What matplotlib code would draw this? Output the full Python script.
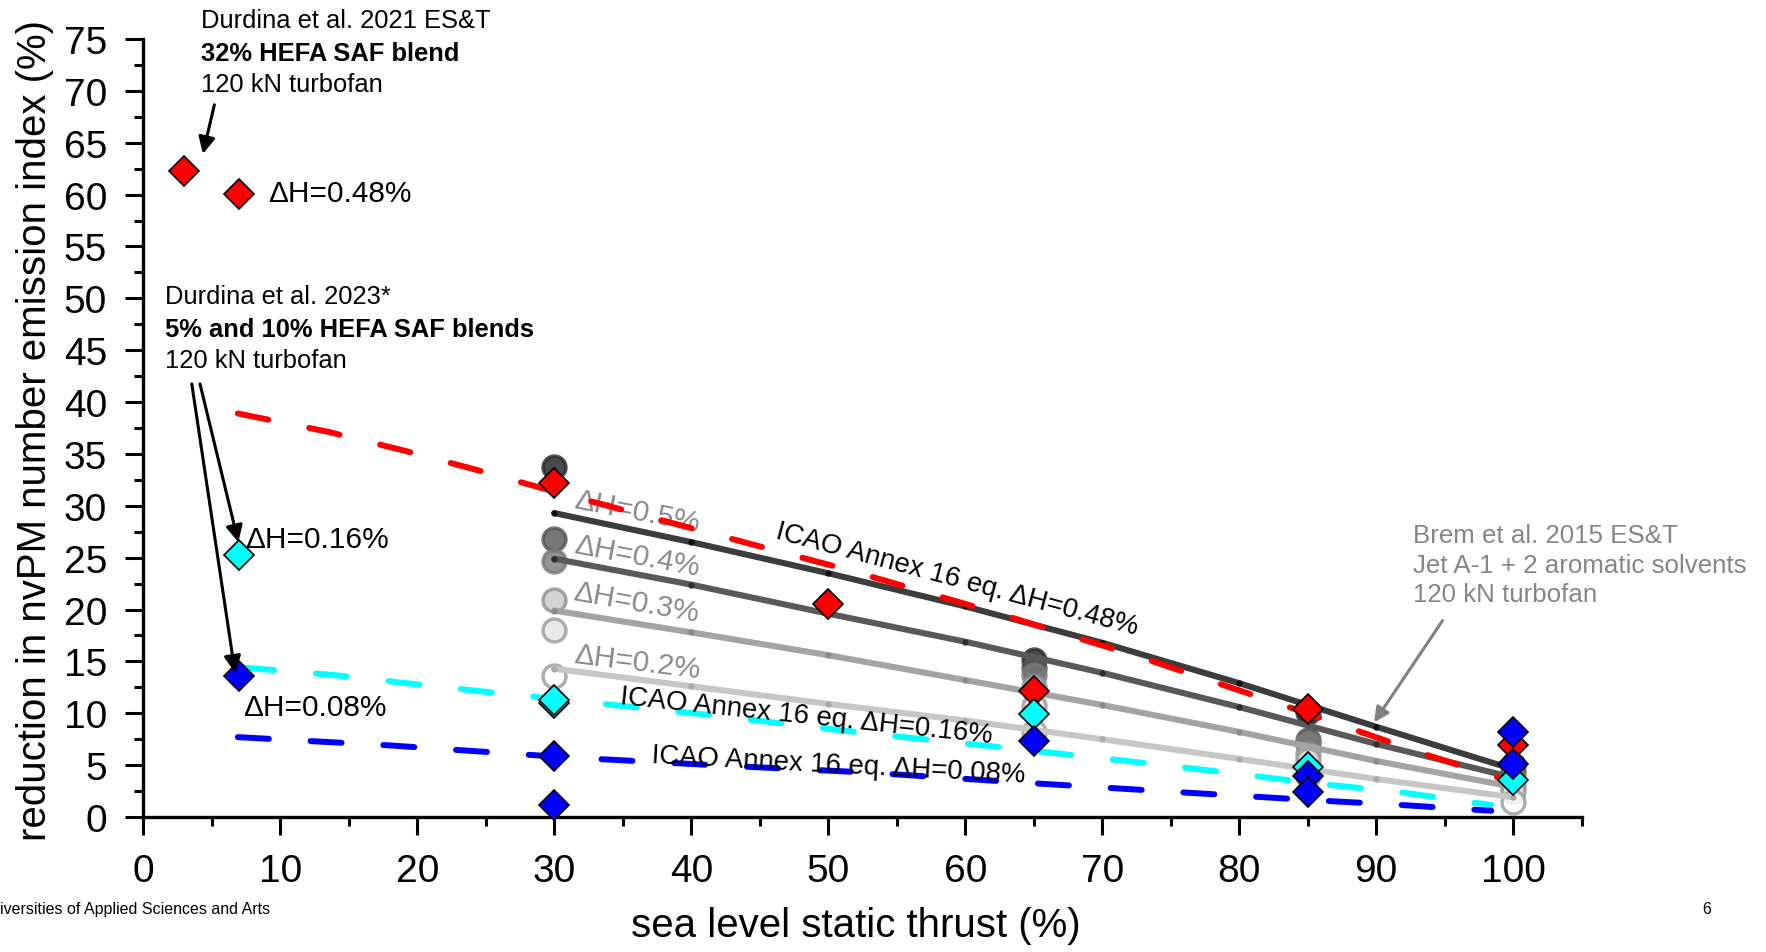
import matplotlib
matplotlib.use('Agg')
import matplotlib.pyplot as plt
from matplotlib.ticker import MultipleLocator

plt.rcParams['font.family'] = ['Liberation Sans', 'DejaVu Sans']

# ---------------- data ----------------
# Durdina et al. 2021 (32% HEFA, dH=0.48%) - red diamonds
red_x = [3, 7, 30, 50, 65, 85, 100]
red_y = [62.3, 60.1, 32.2, 20.5, 12.1, 10.4, 6.9]
# Durdina et al. 2023 dH=0.16% - cyan diamonds
cyan_x = [7, 30, 30, 65, 85, 100]
cyan_y = [25.3, 11.0, 11.3, 9.9, 4.8, 3.6]
# Durdina et al. 2023 dH=0.08% - blue diamonds
blue_x = [7, 30, 30, 65, 85, 85, 100, 100]
blue_y = [13.6, 5.9, 1.2, 7.3, 4.0, 2.4, 8.2, 5.1]

# ICAO Annex 16 eq. curves
icao48_x = [6.9, 13.6, 19.1, 24.5, 30.2, 40.7, 51.5, 62.2, 72.8, 83.4, 93.9, 98.9]
icao48_y = [38.9, 37.1, 35.3, 33.4, 31.3, 27.6, 23.8, 19.7, 15.4, 10.7, 5.9, 3.8]
icao16_x = [7.3, 13.8, 19.2, 24.8, 31.4, 41.6, 52.6, 63.5, 74.9, 85.8, 91.5, 98.4]
icao16_y = [14.4, 13.7, 12.9, 12.1, 11.2, 9.8, 8.1, 6.6, 4.95, 3.2, 2.44, 1.15]
icao08_x = [6.9, 18, 30.9, 41.6, 52.7, 63.8, 75.0, 86.1, 91.8, 98.4]
icao08_y = [7.7, 6.9, 5.75, 5.0, 4.3, 3.35, 2.44, 1.57, 1.16, 0.6]

# Brem et al. 2015 fitted lines (dH = 0.5, 0.4, 0.3, 0.2 %)
fit_x = [30, 40, 50, 60, 70, 80, 90, 100]
fit_05 = [29.3, 26.5, 23.5, 20.3, 16.8, 12.9, 8.7, 4.6]
fit_04 = [24.9, 22.4, 19.6, 16.9, 13.9, 10.6, 7.04, 3.8]
fit_03 = [19.9, 17.8, 15.6, 13.2, 10.8, 8.2, 5.4, 2.9]
fit_02 = [14.3, 12.6, 10.9, 9.3, 7.5, 5.6, 3.66, 1.9]

# Brem et al. 2015 measured points
brem_x = [30, 65, 85, 100]
brem_1 = [33.7, 15.1, 10.1, 5.0]
brem_2 = [26.8, 14.4, 7.4, 4.3]
brem_3 = [24.7, 13.7, 7.0, 3.7]
brem_4 = [20.9, 12.5, 6.1, 3.0]
brem_5 = [18.0, 10.7, 5.5, 2.5]
brem_6 = [13.6, 8.2, 4.0, 1.45]

x_ticks = [0, 10, 20, 30, 40, 50, 60, 70, 80, 90, 100]
y_ticks = [0, 5, 10, 15, 20, 25, 30, 35, 40, 45, 50, 55, 60, 65, 70, 75]

# ---------------- figure ----------------
fig = plt.figure(figsize=(17.66, 9.53), dpi=100)
ax = fig.add_axes([0.08114, 0.14166, 0.81449, 0.81637])

# Brem circles
brem_sets = [
    (brem_1, '#1e1e1e', '#2a2a2a'),
    (brem_2, '#555555', '#555555'),
    (brem_3, '#7a7a7a', '#7a7a7a'),
    (brem_4, '#c8c8c8', '#909090'),
    (brem_5, '#e4e4e4', '#9a9a9a'),
    (brem_6, '#ffffff', '#9a9a9a'),
]
for vals, fc, ec in brem_sets:
    ax.plot(brem_x, vals, linestyle='none', marker='o', markersize=16.5,
            markerfacecolor=fc, markeredgecolor=ec, markeredgewidth=2.5,
            alpha=0.8, zorder=2, clip_on=False)

# Fit lines
fit_sets = [
    (fit_05, '#3c3c3c', '#111111'),
    (fit_04, '#595959', '#2e2e2e'),
    (fit_03, '#a3a3a3', '#8a8a8a'),
    (fit_02, '#c6c6c6', '#aaaaaa'),
]
for vals, lc, mc in fit_sets:
    ax.plot(fit_x, vals, color=lc, lw=4.4, solid_capstyle='round', zorder=3,
            marker='o', markersize=3.5, markerfacecolor=mc, markeredgecolor=mc)

# ICAO dashed lines
for xs, ys, c in [(icao48_x, icao48_y, '#ff0000'),
                  (icao16_x, icao16_y, '#00ffff'),
                  (icao08_x, icao08_y, '#0000ff')]:
    ln, = ax.plot(xs, ys, color=c, lw=4.3, zorder=4, dash_capstyle='round')
    ln.set_dashes((5.2, 7.0))

# Diamonds
dkw = dict(linestyle='none', marker='D', markersize=15.5, markeredgecolor='black',
           markeredgewidth=1.2, zorder=5, clip_on=False)
ax.plot(red_x, red_y, markerfacecolor='#ff0000', **dkw)
ax.plot(cyan_x, cyan_y, markerfacecolor='#00ffff', **dkw)
ax.plot(blue_x, blue_y, markerfacecolor='#0000ff', **dkw)

# Axes styling
ax.set_xlim(0, 105)
ax.set_ylim(0, 75)
ax.set_xticks(x_ticks)
ax.set_yticks(y_ticks)
ax.xaxis.set_minor_locator(MultipleLocator(5))
ax.yaxis.set_minor_locator(MultipleLocator(2.5))
for s in ['top', 'right']:
    ax.spines[s].set_visible(False)
for s in ['left', 'bottom']:
    ax.spines[s].set_linewidth(2.4)
ax.tick_params(which='major', length=13, width=2.2, direction='out',
               labelsize=28, pad=13, colors='black')
ax.tick_params(which='minor', length=6.3, width=2.2, direction='out')

ax.set_xlabel('sea level static thrust (%)', fontsize=29, va='center')
ax.xaxis.set_label_coords(0.4955, -0.139)
ax.set_ylabel('reduction in nvPM number emission index (%)', fontsize=29, va='center')
ax.yaxis.set_label_coords(-0.0753, 0.498)

# ---------------- annotations ----------------
fs = 18.4
ax.text(4.21, 76.15, 'Durdina et al. 2021 ES&T', fontsize=fs)
ax.text(4.21, 73.0, '32% HEFA SAF blend', fontsize=fs, fontweight='bold')
ax.text(4.21, 70.0, '120 kN turbofan', fontsize=fs)
ax.annotate('', xy=(4.35, 63.93), xytext=(5.19, 68.66),
            arrowprops=dict(arrowstyle='-|>', color='black', lw=2.2,
                            mutation_scale=25, shrinkA=0, shrinkB=0))
ax.text(9.11, 59.4, 'ΔH=0.48%', fontsize=21.5)

ax.text(1.59, 49.57, 'Durdina et al. 2023*', fontsize=fs)
ax.text(1.59, 46.41, '5% and 10% HEFA SAF blends', fontsize=fs, fontweight='bold')
ax.text(1.59, 43.37, '120 kN turbofan', fontsize=fs)
ax.annotate('', xy=(6.94, 26.49), xytext=(4.14, 41.75),
            arrowprops=dict(arrowstyle='-|>', color='black', lw=2.2,
                            mutation_scale=25, shrinkA=0, shrinkB=0), zorder=6)
ax.annotate('', xy=(6.70, 13.9), xytext=(3.54, 41.75),
            arrowprops=dict(arrowstyle='-|>', color='black', lw=2.2,
                            mutation_scale=25, shrinkA=0, shrinkB=0), zorder=6)
ax.text(7.43, 26.06, 'ΔH=0.16%', fontsize=21.5)
ax.text(7.28, 9.85, 'ΔH=0.08%', fontsize=21.5)

gray_txt = '#8a8a8a'
for (xx, yy, t, r) in [(31.4, 29.85, 'ΔH=0.5%', -11),
                       (31.4, 25.5, 'ΔH=0.4%', -10.5),
                       (31.3, 21.0, 'ΔH=0.3%', -10),
                       (31.4, 14.9, 'ΔH=0.2%', -7)]:
    ax.text(xx, yy, t, fontsize=21.5, color=gray_txt, rotation=r,
            rotation_mode='anchor', ha='left', va='baseline', zorder=3.5)

ax.text(46.1, 26.97, 'ICAO Annex 16 eq. ΔH=0.48%', fontsize=19.8, rotation=-15,
        rotation_mode='anchor', ha='left', va='baseline', zorder=6)
ax.text(34.8, 10.95, 'ICAO Annex 16 eq. ΔH=0.16%', fontsize=19.8, rotation=-6,
        rotation_mode='anchor', ha='left', va='baseline', zorder=6)
ax.text(37.1, 5.27, 'ICAO Annex 16 eq. ΔH=0.08%', fontsize=19.8, rotation=-3,
        rotation_mode='anchor', ha='left', va='baseline', zorder=6)

ax.text(92.65, 26.49, 'Brem et al. 2015 ES&T', fontsize=18.6, color='#858585')
ax.text(92.65, 23.6, 'Jet A-1 + 2 aromatic solvents', fontsize=18.6, color='#858585')
ax.text(92.65, 20.86, '120 kN turbofan', fontsize=18.6, color='#858585')
ax.annotate('', xy=(89.85, 9.13), xytext=(94.84, 18.93),
            arrowprops=dict(arrowstyle='-|>', color='#808080', lw=2.2,
                            mutation_scale=22, shrinkA=0, shrinkB=0), zorder=6)

# slide footer
fig.text(0.0, 1 - 910 / 953, 'iversities of Applied Sciences and Arts', fontsize=11.5,
         va='center', ha='left')
fig.text(1707 / 1766, 1 - 910 / 953, '6', fontsize=11.5, va='center', ha='center')

fig.savefig('out.png', dpi=100)
